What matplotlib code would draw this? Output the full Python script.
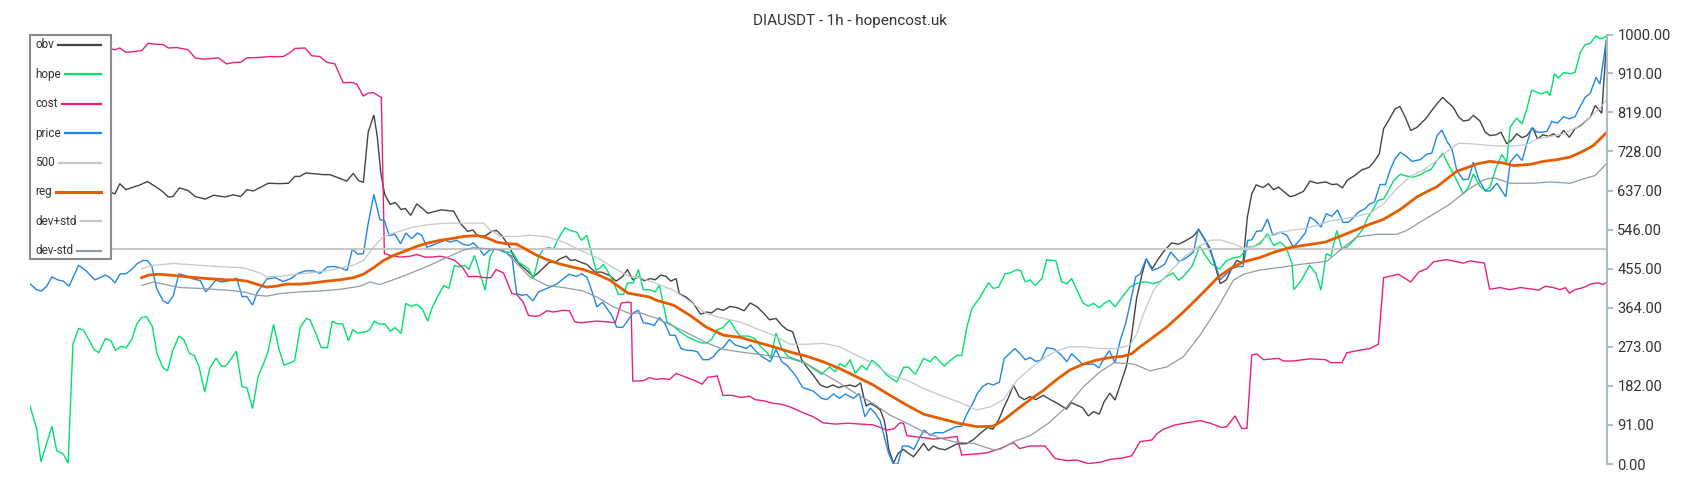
import numpy as np
import matplotlib
matplotlib.use("Agg")
import matplotlib.pyplot as plt
from matplotlib.patches import Rectangle
from matplotlib.lines import Line2D

plt.rcParams["font.family"] = ["Roboto", "DejaVu Sans"]

TITLE = "DIAUSDT - 1h - hopencost.uk"
N_HOURS = 360
Y_TICKS = [0, 91, 182, 273, 364, 455, 546, 637, 728, 819, 910, 1000]
LEVEL = 500

# (hour index, value) pairs
OBV = [(0, 640), (9, 630), (18.5, 633), (19.4, 629), (20.5, 653), (21.9, 639), (23.6, 645), (25.1, 650),
       (26.8, 658), (28.2, 649), (30.1, 636), (31.6, 622), (32.6, 623), (34.1, 643), (36.1, 637),
       (37.7, 623), (40, 617), (41.9, 626), (44.5, 622), (46.4, 627), (48.1, 623), (49.5, 639),
       (51, 636), (54.4, 654), (57.1, 653), (59, 654), (60.5, 670), (61.6, 670), (63, 678), (65.1, 676),
       (67, 674), (68.5, 674), (70, 668), (72.3, 659), (73.8, 677), (75, 660), (76.1, 656), (77.2, 773),
       (78.5, 813), (79.3, 761), (80.1, 676), (81, 627), (82.2, 605), (83.4, 609), (84.7, 593),
       (85.7, 595), (86.9, 579), (88.3, 606), (89.6, 595), (90.8, 584), (93.8, 592), (96.7, 589),
       (98.3, 560), (99.9, 542), (101.1, 545), (102.2, 532), (103.9, 531), (105.4, 542), (106.5, 544),
       (107.7, 532), (109.4, 507), (110.7, 478), (112, 463), (113.4, 451), (114.8, 437), (115.8, 443),
       (117.2, 457), (118.6, 470), (119.9, 470), (121, 478), (122.4, 484), (123.4, 474), (124.4, 476),
       (125.7, 470), (127.1, 465), (129, 447), (130.5, 447), (132.3, 439), (133.8, 426), (135.3, 437),
       (136.4, 453), (137.6, 429), (138.9, 436), (140.2, 427), (141.6, 432), (142.7, 429), (144, 440),
       (145.2, 437), (146.3, 426), (147.5, 432), (148.2, 397), (149.9, 388), (151.4, 374), (153.1, 349),
       (154.5, 354), (155.6, 352), (156.9, 362), (158.3, 358), (159.8, 367), (161.5, 364), (163, 357),
       (164.4, 375), (165.9, 367), (167.6, 350), (168.8, 336), (170.3, 339), (171.6, 323), (172.8, 313),
       (174.1, 308), (175.2, 273), (176.2, 242), (177.3, 226), (178.8, 207), (180.4, 184), (181.9, 178),
       (183.3, 184), (184.6, 178), (185.7, 181), (187.2, 184), (188.4, 180), (189.6, 189), (190.3, 157),
       (190.9, 135), (191.8, 141), (192.9, 135), (194.1, 126), (195, 102), (195.6, 66), (196, 36),
       (197.1, 2), (198.2, 25), (199.4, 34), (200.5, 25), (201.7, 17), (203, 34), (204, 48), (205.1, 31),
       (206.2, 42), (207.4, 36), (208.9, 33), (210.1, 39), (211.6, 47), (213.7, 47), (215.4, 57),
       (216.9, 71), (218.6, 85), (219.8, 81), (221.1, 102), (222.2, 129), (223.6, 160), (224.5, 184),
       (225.8, 157), (227, 150), (228.3, 157), (229.6, 150), (231.3, 160), (232.9, 150), (234.6, 141),
       (236.6, 128), (237.7, 143), (239, 137), (240.3, 131), (241.6, 112), (242.8, 122), (244.1, 116),
       (245.2, 145), (246.5, 165), (247.7, 149), (249, 188), (250.3, 228), (251.5, 300), (252.6, 385),
       (253.8, 440), (254.8, 478), (256.2, 455), (257.4, 475), (258.8, 495), (260.6, 515), (262.2, 512),
       (263.8, 520), (265.6, 531), (266.8, 546), (268.1, 525), (269.4, 502), (270.5, 463), (271.7, 420),
       (273.1, 429), (274.4, 457), (275.5, 474), (276.9, 468), (277.9, 575), (278.9, 629), (279.9, 650),
       (281.5, 644), (282.7, 653), (283.9, 639), (285, 645), (287.6, 623), (288.6, 625), (290.7, 635),
       (292.2, 659), (293.8, 654), (295.8, 657), (297.2, 651), (298.4, 652), (299.6, 643), (300.7, 661),
       (302.4, 672), (304, 685), (305.7, 691), (306.8, 704), (308, 722), (309, 781), (310.3, 803),
       (311.6, 827), (312.7, 833), (313.9, 809), (315.2, 777), (316.6, 784), (318.6, 804), (320.4, 829),
       (321.5, 843), (322.5, 854), (323.6, 843), (324.9, 831), (326.1, 809), (327.2, 799), (328.4, 801),
       (329.5, 812), (331, 799), (332.2, 773), (333.3, 765), (334.7, 767), (335.8, 773), (337.1, 746),
       (338.3, 755), (339.4, 769), (340.6, 760), (341.7, 765), (343.1, 783), (344.1, 757), (345.4, 767),
       (346.7, 763), (347.8, 769), (348.9, 761), (350.1, 777), (351.4, 761), (352.7, 781), (353.9, 788),
       (355, 798), (356.2, 808), (357.3, 835), (358.8, 817), (360, 1000)]

HOPE = [(0, 135), (1.5, 83), (2.5, 5), (3.8, 48), (5, 88), (6.1, 31), (7.6, 23), (8.7, 2), (9.8, 279),
        (11.1, 316), (12.2, 312), (13.4, 290), (14.6, 267), (15.7, 259), (17.2, 292), (18.5, 287),
        (19.5, 265), (20.8, 274), (22, 271), (23.3, 292), (24.4, 327), (25.5, 341), (26.6, 343),
        (27.9, 321), (29, 257), (30.3, 225), (31.4, 217), (32.6, 265), (34, 298), (35.1, 290),
        (36.4, 257), (37.5, 253), (38.6, 226), (39.9, 168), (41, 222), (42.5, 247), (43.7, 228),
        (44.7, 228), (46, 246), (47.1, 263), (48.4, 180), (49.5, 178), (50.8, 129), (52.1, 205),
        (53.4, 236), (54.3, 261), (55.6, 325), (56.9, 265), (58, 230), (60.4, 240), (61.7, 319),
        (63.1, 339), (63.9, 336), (65.2, 305), (66.5, 271), (67.9, 271), (69, 333), (70, 327),
        (71.4, 326), (72.7, 287), (73.7, 313), (74.8, 305), (76.6, 308), (77.5, 312), (78.6, 333),
        (79.7, 326), (81, 326), (82.3, 309), (83.3, 318), (84.7, 304), (85.8, 374), (87.1, 367),
        (88.2, 372), (89.5, 362), (90.8, 333), (91.9, 367), (93.2, 393), (94.5, 416), (95.6, 409),
        (96.9, 463), (98, 459), (99.3, 463), (100.2, 453), (101.5, 486), (102.8, 440), (103.9, 405),
        (105, 482), (106, 502), (107, 500), (108.1, 494), (109.2, 494), (110.3, 491), (111.5, 470),
        (112.6, 463), (113.8, 455), (114.9, 432), (116.1, 482), (117.2, 501), (118.6, 504), (119.5, 501),
        (120.6, 525), (122.1, 550), (123.3, 544), (124.8, 540), (125.9, 521), (127.1, 533), (128, 499),
        (129.2, 451), (130.1, 457), (130.9, 465), (132, 447), (133.2, 424), (134.3, 395), (135.5, 395),
        (136.4, 422), (137.7, 422), (138.9, 453), (140, 406), (141.4, 406), (142.7, 401), (143.7, 416),
        (144.4, 381), (145.4, 331), (146.9, 321), (148.4, 308), (150.3, 295), (151.8, 288), (153.3, 282),
        (154.5, 282), (155.6, 290), (156.8, 312), (158.2, 318), (159.7, 335), (161, 313), (162.1, 298),
        (164, 298), (165.5, 292), (166.8, 273), (168.2, 261), (169.1, 246), (170.3, 305), (171.6, 269),
        (173.1, 250), (175, 243), (176.9, 236), (178.8, 222), (180.7, 209), (182.5, 226), (183.8, 215),
        (184.9, 234), (186.1, 226), (187.2, 243), (188.4, 211), (189.9, 230), (191, 219), (192.2, 242),
        (193.7, 230), (195.6, 207), (197.9, 191), (199.4, 225), (200.5, 226), (202.1, 209), (204, 246),
        (205.5, 238), (206.6, 251), (208.7, 228), (210.2, 242), (211.6, 253), (212.7, 253), (213.9, 320),
        (215, 362), (216.9, 389), (218.8, 422), (219.9, 409), (221.1, 412), (222.6, 443), (223.7, 445),
        (225.3, 453), (226.2, 450), (227.2, 424), (228.3, 429), (229.5, 416), (231, 432), (232.1, 476),
        (234.2, 473), (235.5, 424), (236.7, 420), (237.8, 432), (239, 405), (240.4, 375), (241.6, 368),
        (242.8, 374), (244.1, 364), (245.2, 374), (246.4, 381), (247.7, 366), (249.4, 390), (251.1, 412),
        (252.3, 419), (253.4, 423), (255, 424), (256.3, 420), (257.8, 424), (259.5, 437), (260.9, 445),
        (262.2, 428), (263.3, 437), (265.3, 461), (267, 507), (268.3, 486), (269.6, 467), (271.5, 454),
        (273.2, 474), (274.7, 480), (276.3, 483), (277.9, 505), (279.3, 507), (280.8, 513), (282.5, 536),
        (283.9, 509), (285.4, 517), (286.7, 505), (288.1, 467), (288.5, 406), (290, 424), (292.1, 463),
        (293.6, 443), (294.7, 405), (295.9, 490), (297, 484), (298.3, 544), (299.5, 501), (300.6, 505),
        (302.5, 524), (304.2, 546), (305.4, 575), (306.5, 591), (307.7, 614), (309, 617), (310, 635),
        (311.3, 660), (312.8, 675), (314.1, 671), (315.8, 668), (317.4, 674), (318.3, 680), (319.8, 686),
        (321.2, 707), (322.5, 724), (323.6, 701), (324.8, 678), (325.9, 656), (327.2, 629), (328.4, 645),
        (329.5, 676), (331, 647), (332.2, 637), (333.3, 645), (334.7, 690), (336, 721), (337.1, 703),
        (337.9, 785), (339.4, 806), (340.6, 792), (341.7, 827), (342.8, 871), (344, 866), (345.1, 862),
        (346.3, 868), (347, 858), (348, 909), (348.9, 899), (350.1, 912), (351.6, 909), (352.7, 912),
        (353.9, 959), (355, 977), (356.2, 980), (357.5, 998), (358.4, 990), (360, 997)]

COST = [(0, 1000), (6.1, 999), (12, 980), (18.5, 967), (19.4, 965), (20.5, 969), (21.9, 959), (24, 961),
        (25.5, 963), (27, 980), (28.5, 978), (30.4, 977), (31.6, 969), (33.5, 970), (36.1, 965),
        (37.7, 946), (39.6, 943), (43, 946), (44.9, 932), (46.4, 935), (48.1, 936), (49.5, 946),
        (52.1, 947), (54.8, 949), (57.8, 949), (59.2, 957), (60.5, 968), (62.8, 969), (64.3, 951),
        (66.2, 949), (67.7, 936), (69.6, 932), (71.5, 888), (73.4, 889), (74.6, 885), (76.1, 857),
        (77.2, 864), (78.4, 865), (79.5, 858), (80.2, 854), (80.9, 490), (82.2, 486), (84.5, 482),
        (86.8, 484), (88.3, 488), (90.2, 482), (91.7, 482), (93.6, 484), (95.1, 481), (97, 474),
        (98.8, 457), (100.1, 436), (102, 437), (103.9, 434), (105.2, 434), (106.4, 453), (108.1, 445),
        (110, 397), (111.1, 395), (112.6, 377), (113.8, 346), (115.3, 344), (116.4, 346), (118, 357),
        (119.5, 354), (121.6, 358), (123.1, 357), (124.4, 331), (125.9, 329), (127.5, 331), (129.4, 333),
        (131.7, 331), (133.6, 329), (135, 375), (136.5, 377), (137.2, 376), (137.6, 193), (140, 194),
        (141.4, 201), (142.9, 197), (144.2, 199), (146, 197), (147.5, 211), (149.5, 203), (151.6, 195),
        (153.4, 186), (154.7, 202), (156.9, 205), (158.2, 160), (160.2, 160), (162.3, 155), (164.3, 158),
        (165.5, 150), (167.6, 147), (169.7, 141), (171.2, 140), (173.5, 133), (176.6, 119), (178.8, 110),
        (181, 96), (183.8, 93), (186.8, 95), (189.5, 93), (192.5, 91), (195.6, 79), (197.2, 82),
        (198.6, 96), (199.4, 95), (200.2, 66), (202.4, 63), (204.3, 61), (206.2, 58), (209.3, 61),
        (211.6, 64), (212.7, 21), (215.4, 23), (218.4, 26), (221.5, 36), (224.5, 50), (225.9, 36),
        (228.3, 42), (231.7, 42), (234, 13), (236.7, 8), (239, 9), (241.6, 1), (244.3, 4), (246.6, 11),
        (248.9, 13), (251.5, 19), (253.4, 52), (256.1, 56), (257.2, 70), (258.7, 81), (261.4, 91),
        (264.1, 96), (267.1, 101), (269.4, 95), (272.1, 85), (273.2, 87), (275.1, 112), (276.6, 83),
        (277.8, 83), (278.9, 254), (280.1, 256), (281.6, 243), (285, 246), (286.1, 240), (288.4, 240),
        (292.2, 245), (295.7, 243), (297, 236), (299.5, 236), (300.6, 259), (302.9, 264), (305.9, 269),
        (307.8, 279), (309, 434), (312.4, 442), (315.2, 424), (317, 447), (318.9, 455), (320.4, 471),
        (323.4, 476), (327.2, 468), (328.8, 473), (332, 468), (333.2, 407), (335.6, 411), (337.9, 406),
        (340.2, 411), (342.5, 408), (344.4, 405), (345.9, 414), (347.8, 411), (349.3, 406), (350.5, 411),
        (351.4, 398), (352.7, 406), (354.6, 411), (356.5, 420), (358.1, 422), (359.1, 418), (360, 424)]

PRICE = [(0, 420), (1.5, 406), (2.6, 403), (3.8, 414), (5, 436), (6.3, 429), (7.6, 426), (8.9, 414),
         (11.1, 463), (12.8, 450), (14.8, 429), (16, 434), (17.2, 440), (18.3, 434), (19.4, 422),
         (20.6, 443), (21.9, 443), (23.2, 453), (24.5, 467), (25.8, 474), (26.8, 474), (27.8, 461),
         (28.9, 409), (30.4, 380), (31.5, 374), (32.7, 392), (34, 443), (35.4, 439), (37.3, 431),
         (38.9, 427), (40.1, 401), (41.1, 412), (42.4, 428), (43.8, 424), (46, 428), (47.2, 433),
         (48.4, 390), (49.5, 390), (50.8, 370), (51.9, 400), (54.1, 431), (56, 434), (57.8, 425),
         (59.6, 432), (61.2, 444), (62.9, 450), (64.7, 450), (66.2, 444), (67.9, 459), (69.5, 460),
         (70.8, 457), (72.4, 451), (73.6, 501), (74.8, 489), (76.1, 490), (77.2, 560), (78.5, 628),
         (79.9, 569), (80.9, 567), (82, 532), (83.3, 535), (84.6, 513), (85.8, 538), (87.1, 525),
         (88.4, 538), (89.4, 533), (90.6, 505), (91.7, 509), (93.2, 515), (94.7, 521), (95.9, 517),
         (97.4, 521), (98.8, 512), (100.1, 509), (101.2, 515), (102.6, 501), (103.6, 486), (104.9, 498),
         (106.2, 501), (107.3, 499), (108.4, 494), (110, 484), (111.1, 397), (112.2, 393), (113.4, 395),
         (114.8, 380), (116.1, 401), (117.3, 406), (118.7, 412), (120.2, 419), (121.8, 432), (123.1, 442),
         (124.7, 437), (126, 443), (127.2, 434), (128.2, 405), (129.4, 366), (130.7, 377), (132, 358),
         (133, 343), (133.9, 319), (135.3, 318), (136.6, 336), (137.7, 352), (138.9, 358), (140, 329),
         (141.2, 327), (142.5, 323), (143.7, 341), (145, 326), (146.1, 300), (147.3, 300), (148.6, 269),
         (149.9, 265), (151.4, 264), (152.4, 261), (153.6, 243), (154.9, 243), (156, 250), (157.2, 265),
         (158.2, 271), (159.7, 290), (161, 277), (162.1, 274), (163.5, 269), (164.5, 277), (165.5, 265),
         (167, 251), (169, 238), (170.3, 267), (171.6, 238), (172.8, 230), (174.7, 207), (176.4, 178),
         (178.8, 170), (180.7, 153), (181.9, 150), (183.4, 163), (184.8, 153), (186.1, 163), (188, 153),
         (189.3, 164), (190.6, 110), (191.8, 130), (192.9, 119), (194.1, 100), (195.2, 56), (196, 25),
         (197.1, 0), (198.1, 0), (199.2, 42), (200.5, 42), (201.8, 34), (203, 60), (204.1, 79),
         (205.5, 67), (206.6, 73), (208.5, 73), (209.9, 80), (211.4, 87), (212.7, 88), (213.9, 117),
         (215.2, 141), (216.3, 165), (217.4, 180), (218.7, 188), (219.9, 184), (221.3, 191), (222.4, 246),
         (223.6, 257), (224.8, 269), (226, 257), (227.2, 243), (228.3, 248), (229.6, 239), (230.8, 242),
         (232.1, 271), (233.8, 268), (235.5, 253), (236.7, 238), (237.8, 257), (238.9, 246), (240.3, 232),
         (241.6, 232), (242.8, 233), (244, 224), (245.2, 246), (246.4, 264), (247.7, 236), (248.9, 289),
         (250.1, 327), (251.1, 372), (252.4, 436), (253.4, 442), (254.8, 478), (256.2, 451), (257.7, 457),
         (259, 465), (260.4, 494), (262.2, 473), (263.3, 476), (264.7, 486), (265.6, 494), (266.7, 548),
         (267.9, 527), (269, 505), (270.3, 474), (271.7, 429), (272.8, 440), (274.4, 455), (275.7, 460),
         (276.9, 460), (278, 521), (278.9, 522), (280, 542), (281.2, 543), (282.5, 571), (283.7, 533),
         (285.4, 540), (286.9, 533), (288.4, 505), (289.8, 521), (291.1, 538), (292.2, 575), (293.4, 567),
         (294.7, 552), (295.9, 583), (297.2, 577), (298.5, 592), (299.7, 563), (301, 563), (302.1, 574),
         (303.3, 587), (304.8, 595), (305.8, 606), (306.9, 610), (308.2, 651), (309.4, 651), (310.5, 685),
         (311.6, 711), (312.8, 726), (313.9, 719), (315.5, 705), (317.4, 709), (318.9, 722), (320, 724),
         (321.2, 765), (322.3, 778), (323.4, 753), (324.6, 734), (325.7, 684), (327.2, 662), (328.4, 664),
         (329.5, 703), (330.7, 664), (332.2, 636), (333.3, 636), (334.9, 654), (336.9, 622), (337.9, 703),
         (339.4, 722), (340.6, 707), (341.7, 746), (342.8, 783), (344.1, 773), (345.4, 773), (346.3, 775),
         (347.4, 798), (348.7, 794), (350.1, 809), (351.4, 804), (352.7, 809), (353.9, 833), (355, 854),
         (356.2, 864), (357.5, 901), (358.4, 885), (360, 1000)]

REG = [(25.5, 434), (27, 440), (29.3, 442), (32, 440), (35.8, 436), (40.3, 432), (44.9, 429), (47.2, 429),
       (49.5, 426), (51.7, 419), (54, 412), (56, 414), (58.6, 419), (61.6, 419), (64.7, 422), (67.7, 426),
       (70.8, 429), (73.8, 434), (76.1, 442), (78.4, 457), (80.7, 474), (83, 486), (85.6, 496), (88.3, 507),
       (90.9, 515), (93.6, 521), (96.3, 525), (98.9, 530), (102, 532), (104.3, 527), (106.5, 517),
       (108.8, 513), (111.1, 512), (113.4, 499), (115.7, 486), (118, 476), (120.6, 467), (123.3, 460),
       (126.3, 453), (129.4, 442), (132.4, 428), (134.7, 411), (136.5, 398), (139.3, 393), (141.4, 389),
       (143.1, 381), (146.9, 370), (150.7, 346), (154.5, 318), (158.3, 300), (162.1, 295), (165.9, 284),
       (169.7, 273), (173.5, 261), (177.3, 251), (181.1, 238), (184.9, 222), (188.7, 203), (192.5, 184),
       (196.3, 160), (200.2, 137), (204, 116), (207.8, 106), (211.9, 95), (216.1, 87), (219.9, 88),
       (222.2, 102), (225.3, 127), (228.3, 150), (231.4, 172), (234.4, 197), (237.4, 219), (240.5, 233),
       (243.5, 242), (246.6, 248), (249.6, 251), (251.5, 257), (253.4, 273), (256.5, 296), (259.5, 319),
       (263.3, 354), (266.4, 385), (269.4, 416), (271.3, 436), (274, 455), (277, 471), (280.8, 481),
       (284.2, 494), (288, 505), (291.9, 511), (295.7, 517), (298.5, 528), (301.4, 540), (305.2, 556),
       (309, 570), (312.8, 593), (316.6, 622), (319, 635), (321.2, 646), (324.2, 670), (325.7, 682),
       (328, 690), (330.3, 699), (333.3, 705), (336.4, 701), (338.7, 695), (342.5, 698), (345.5, 705),
       (348.6, 709), (351.6, 715), (354.6, 729), (356.9, 742), (360, 773)]

DEV_HI = [(25.5, 455), (28.2, 463), (32.7, 467), (37.3, 464), (42.6, 460), (48.7, 457), (52.5, 445),
          (54, 436), (57.1, 437), (60.1, 441), (64.7, 446), (69.3, 453), (73.8, 463), (76.1, 474),
          (78.4, 505), (80.7, 530), (83.7, 540), (87.5, 552), (91.3, 558), (95.1, 561), (98.9, 561),
          (103.5, 561), (105, 546), (107.3, 530), (111.1, 530), (114.1, 533), (118, 529), (121.8, 517),
          (125.6, 498), (129.4, 481), (133.2, 457), (137, 436), (139.3, 434), (143.1, 420), (146.9, 405),
          (150.7, 378), (154.5, 350), (158.3, 339), (162.1, 331), (165.9, 315), (169.7, 300), (173.5, 279),
          (177.3, 279), (181.1, 281), (184.9, 273), (188.7, 253), (192.5, 234), (196.3, 207), (200.2, 195),
          (204, 176), (207.8, 160), (211.9, 145), (216.1, 126), (219.2, 133), (222.2, 150), (225.3, 195),
          (228.3, 222), (231.4, 246), (234.4, 264), (237.4, 273), (240.5, 273), (244.3, 269), (248.1, 269),
          (251.1, 277), (252.7, 304), (254.2, 350), (256.5, 405), (259.5, 440), (263.3, 481), (266.4, 505),
          (269.4, 521), (271.7, 522), (274.7, 513), (277, 503), (279.3, 506), (281.6, 525), (284.6, 538),
          (287.7, 544), (290.7, 548), (293.8, 556), (296.8, 566), (299.9, 571), (302.9, 577), (305.9, 584),
          (309, 606), (312, 641), (315.1, 670), (318.1, 685), (321.2, 707), (324.2, 734), (326.1, 747),
          (328.8, 746), (333.3, 742), (337.9, 740), (341.7, 744), (344, 757), (347, 763), (350.1, 769),
          (353.1, 784), (356.2, 808), (358.4, 829), (360, 850)]

DEV_LO = [(25.5, 416), (28.2, 424), (30.4, 419), (34.2, 411), (38.8, 409), (44.9, 405), (48.7, 401),
          (51.7, 393), (54, 391), (57.1, 397), (61.6, 401), (66.2, 403), (70.8, 407), (75.3, 414),
          (77.6, 424), (79.9, 418), (83.7, 432), (87.5, 447), (91.3, 463), (95.1, 481), (98.9, 498),
          (101.2, 504), (105, 501), (108.1, 498), (111.1, 467), (114.1, 436), (118, 416), (121.8, 411),
          (126.3, 403), (129.4, 389), (133.2, 366), (137, 350), (139.3, 352), (143.1, 339), (146.9, 321),
          (150.7, 302), (154.5, 282), (158.3, 267), (162.1, 261), (165.9, 256), (169.7, 251), (173.5, 246),
          (177.3, 233), (181.1, 211), (184.9, 188), (188.7, 163), (192.5, 141), (196.3, 114), (200.2, 95),
          (204, 75), (207.8, 60), (210.8, 52), (215.4, 48), (219.9, 33), (221.5, 34), (224.5, 52),
          (228.3, 66), (232.5, 95), (236.7, 134), (240.5, 180), (244.3, 215), (247.5, 236), (251.9, 233),
          (255.7, 217), (259.5, 226), (263.3, 250), (267.1, 300), (270.9, 360), (274.7, 428), (277, 442),
          (280.8, 452), (286.1, 459), (290, 465), (296, 472), (299.9, 505), (302.9, 529), (307.5, 535),
          (312, 535), (314.3, 544), (317.4, 564), (321.2, 587), (324.2, 606), (328, 637), (331.8, 662),
          (334.1, 667), (337.9, 654), (343.2, 654), (347, 657), (351.6, 654), (354.6, 664), (357.3, 672),
          (360, 701)]

SERIES = [
    ("obv", OBV, "#444444", 1.0),
    ("hope", HOPE, "#00e070", 1.0),
    ("cost", COST, "#e8207e", 1.0),
    ("price", PRICE, "#1e88e5", 1.0),
    ("500", None, "#c8c8c8", 1.5),
    ("reg", REG, "#e65c00", 2.0),
    ("dev+std", DEV_HI, "#c2c8cc", 0.9),
    ("dev-std", DEV_LO, "#8f9ca5", 0.9),
]

W, H = 1700, 500
fig = plt.figure(figsize=(W / 100, H / 100), dpi=100)
ax = fig.add_axes([30 / W, 36 / H, 1577 / W, 429.3 / H])

for name, pts, color, lw in SERIES:
    if pts is None:
        ax.axhline(LEVEL, color=color, lw=lw)
        continue
    x, y = np.array(pts, dtype=float).T
    ax.plot(x, y, color=color, lw=lw, solid_joinstyle="miter")

ax.set_xlim(0, N_HOURS)
ax.set_ylim(0, 1000)
ax.set_xticks([])
ax.yaxis.tick_right()
ax.set_yticks(Y_TICKS)
ax.set_yticklabels([f"{t:.2f}" for t in Y_TICKS])
for s in ("left", "top", "bottom"):
    ax.spines[s].set_visible(False)
ax.spines["right"].set_color("#b0bcc3")
ax.spines["right"].set_linewidth(1.5)
ax.tick_params(axis="y", colors="#b0bcc3", length=4, width=1.5, pad=3.5,
               labelsize=10.5, labelcolor="#333333")

fig.text(0.5, 1 - 20.5 / H, TITLE, ha="center", va="center", fontsize=11, color="#333333")

# hand-drawn legend box: labels left, samples stretched to a common right edge
box_w = 81 / 1577
box_b = (464 - 259) / 429.3
ax.add_patch(Rectangle((0, box_b), box_w, 1 - box_b, transform=ax.transAxes, facecolor="white",
                       edgecolor="#8a8a8a", lw=1.5, zorder=10, clip_on=False))
fig.canvas.draw()
renderer = fig.canvas.get_renderer()
inv = ax.transAxes.inverted()
row_top, row_step = (464 - 45) / 429.3, 29.4 / 429.3
for i, (name, pts, color, lw) in enumerate(SERIES):
    yy = row_top - i * row_step
    t = ax.text(5 / 1577, yy, name, transform=ax.transAxes, ha="left", va="center",
                fontsize=8.5, color="#333333", zorder=11)
    bb = t.get_window_extent(renderer)
    x_end = inv.transform((bb.x1, bb.y0))[0]
    ax.add_line(Line2D([x_end + 4 / 1577, 71 / 1577], [yy, yy], transform=ax.transAxes,
                       color=color, lw=2.2 if name == "reg" else 1.6, zorder=11, clip_on=False))

fig.savefig("out.png", dpi=100)
